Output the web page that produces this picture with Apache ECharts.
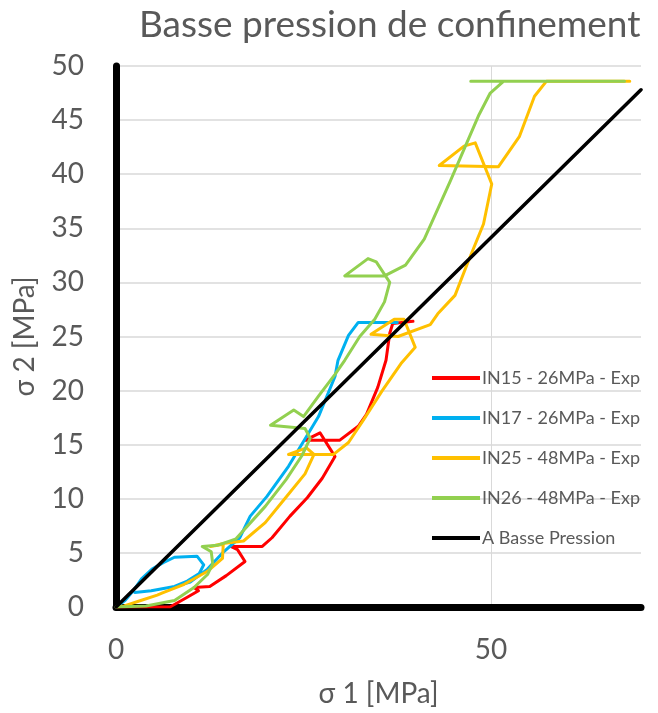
<!DOCTYPE html>
<html>
<head>
<meta charset="utf-8">
<script src="https://cdn.jsdelivr.net/npm/echarts@6/dist/echarts.min.js"></script>
<style>
html,body{margin:0;padding:0;background:#fff;}
#chart{width:658px;height:713px;}
</style>
</head>
<body>
<div id="chart"></div>
<script>
// ---- data ----
const titleText = 'Basse pression de confinement';
const xName = 'σ 1 [MPa]';
const yName = 'σ 2 [MPa]';
const seriesNames = ['IN15 - 26MPa - Exp', 'IN17 - 26MPa - Exp', 'IN25 - 48MPa - Exp', 'IN26 - 48MPa - Exp', 'A Basse Pression'];
const seriesColors = ['#ff0000', '#00b0f0', '#ffc000', '#92d050', '#000000'];

const in15 = [[0,0],[7.2,0],[9.5,0.9],[11,1.5],[10.4,1.8],[12.5,1.9],[14.7,2.9],[17.2,4.2],[16.2,5.3],[15.3,5.6],[19.5,5.6],[20.8,6.4],[23.2,8.4],[25.5,10.1],[27.5,11.9],[29.2,13.9],[27.2,16.1],[25.2,15.4],[29.8,15.4],[32.3,16.7],[33.4,17.8],[34.9,20.3],[36,22.8],[36.5,25.3],[36.9,26.2],[39.6,26.4]];
const in17 = [[0,0],[1.2,0.6],[2.3,1.5],[3.4,2.6],[4.8,3.5],[6.3,4.1],[7.8,4.6],[10.8,4.7],[11.7,3.9],[11.1,3.1],[9.5,2.4],[7.8,1.9],[4.7,1.5],[2.5,1.35],[4.7,1.5],[7.8,1.9],[9.9,2.3],[12.2,3.5],[14.2,5],[16.5,6.4],[17.9,8.4],[20.1,10.2],[23,13],[25.7,16.1],[27,17.6],[29.2,21.3],[29.6,22.8],[31,25.1],[32.3,26.3],[37.5,26.3]];
const in25 = [[0,0],[1.1,0.1],[3.3,0.6],[5.5,1.1],[6.2,1.3],[9.1,2.1],[12.2,3.3],[14.2,4.5],[14.3,5.8],[12.6,5.6],[14.5,5.9],[17,6.1],[19.9,7.8],[22.5,10],[25.2,12.3],[26.4,14.1],[25.4,14.7],[23,14.1],[29,14.1],[31,15.2],[33,17.3],[35.5,20],[38,22.5],[39.9,24],[38.4,26.6],[37.1,26.6],[34,25.2],[37.6,25],[41.9,26.1],[42.9,27.1],[45.2,28.8],[47,32],[49,35.4],[50.1,39.1],[47.9,42.9],[46.4,42.6],[43.1,40.8],[51,40.7],[53.8,43.5],[55.8,47.2],[57.4,48.6],[68.5,48.6]];
const in26 = [[0,0],[4,0.1],[7.8,0.6],[10.4,1.8],[12.2,3],[12.9,4],[12.7,5.1],[11.5,5.6],[13.5,5.7],[16,6.3],[19.9,9.3],[22.7,11.8],[24.8,14],[25.9,15.6],[25.2,16.5],[20.6,16.8],[23.7,18.2],[25,17.6],[27,19.5],[29.2,21.5],[30.5,22.8],[32.5,25],[34.5,26.6],[35.8,28.2],[36.5,30],[34.7,31.9],[33.6,32.2],[30.5,30.6],[35.8,30.6],[38.6,31.6],[41.1,34],[44.6,39.4],[48.4,45.5],[49.9,47.5],[51.7,48.6],[67.8,48.6],[47.3,48.6]];
const basse = [[0,0],[70,47.8]];
const allData = [in15, in17, in25, in26, basse];

const xMin = 0, xMax = 70, xInterval = 50;
const yMin = 0, yMax = 50, yInterval = 5;
const xGridMark = 50;

// ---- chart ----
const chart = echarts.init(document.getElementById('chart'), null, {renderer: 'canvas'});
const textColor = '#595959';
const fontFam = 'Lato, "Open Sans", sans-serif';

const series = allData.map((d, i) => ({
  name: seriesNames[i],
  type: 'line',
  data: d,
  showSymbol: false,
  symbol: 'none',
  lineStyle: {color: seriesColors[i], width: i === 4 ? 3.5 : 3, cap: 'round', join: 'round'},
  itemStyle: {color: seriesColors[i]},
  z: i === 4 ? 3 : 2,
  animation: false
}));
series[0].markLine = {
  silent: true, symbol: 'none', animation: false, label: {show: false},
  lineStyle: {color: '#d9d9d9', width: 1, type: 'solid'},
  data: [{xAxis: xGridMark}],
  z: 0
};

chart.setOption({
  backgroundColor: '#ffffff',
  animation: false,
  title: {
    text: titleText,
    left: 134, top: 2,
    textStyle: {fontFamily: fontFam, fontSize: 37, fontWeight: 'normal', color: textColor}
  },
  grid: {left: 116, right: 17, top: 66, bottom: 101, containLabel: false},
  legend: {
    data: seriesNames,
    orient: 'vertical',
    left: 427, top: 364,
    itemWidth: 48, itemHeight: 4,
    itemGap: 22,
    icon: 'rect',
    textStyle: {fontFamily: fontFam, fontSize: 18, color: textColor, padding: [0,0,0,-3]}
  },
  xAxis: {
    type: 'value', min: xMin, max: xMax, interval: xInterval,
    name: xName, nameLocation: 'middle', nameGap: 73,
    nameTextStyle: {fontFamily: fontFam, fontSize: 28, color: textColor},
    axisLine: {show: true, onZero: false, lineStyle: {color: '#000', width: 7}},
    axisTick: {show: false},
    axisLabel: {fontFamily: fontFam, fontSize: 28, color: textColor, margin: 29, showMaxLabel: false},
    splitLine: {show: false}
  },
  yAxis: {
    type: 'value', min: yMin, max: yMax, interval: yInterval,
    name: yName, nameLocation: 'middle', nameGap: 77, nameRotate: 90,
    nameTextStyle: {fontFamily: fontFam, fontSize: 28, color: textColor},
    axisLine: {show: true, onZero: false, lineStyle: {color: '#000', width: 7}},
    axisTick: {show: false},
    axisLabel: {fontFamily: fontFam, fontSize: 28, color: textColor, margin: 32},
    splitLine: {show: true, lineStyle: {color: '#d9d9d9', width: 1.5}}
  },
  series: series
});
</script>
</body>
</html>
